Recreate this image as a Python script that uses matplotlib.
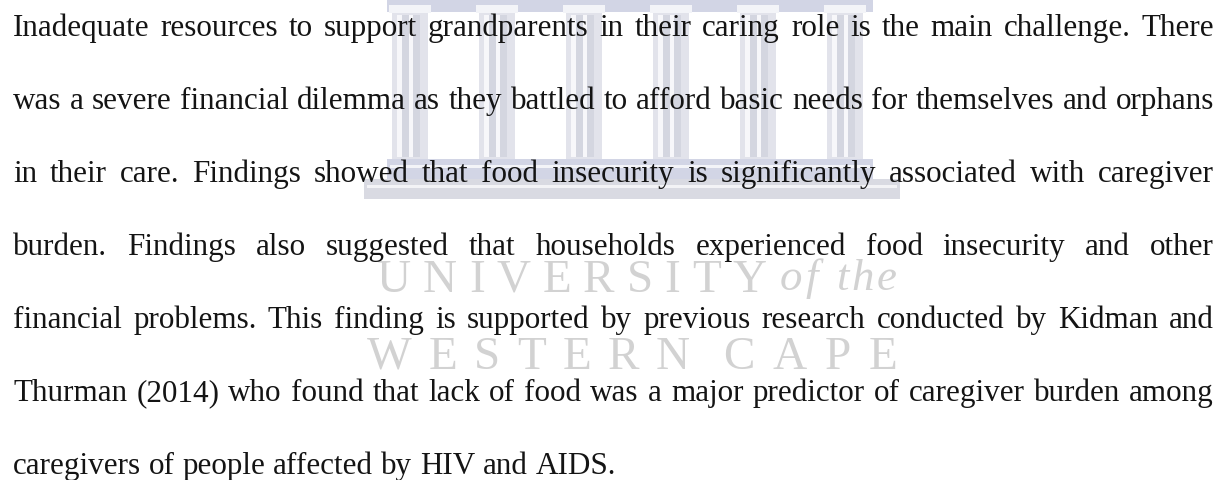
import matplotlib
matplotlib.use("Agg")
import matplotlib.pyplot as plt
from matplotlib.patches import Rectangle

# paragraph, one entry per printed line
lines = [
    "Inadequate resources to support grandparents in their caring role is the main challenge. There",
    "was a severe financial dilemma as they battled to afford basic needs for themselves and orphans",
    "in their care. Findings showed that food insecurity is significantly associated with caregiver",
    "burden. Findings also suggested that households experienced food insecurity and other",
    "financial problems. This finding is supported by previous research conducted by Kidman and",
    "Thurman (2014) who found that lack of food was a major predictor of caregiver burden among",
    "caregivers of people affected by HIV and AIDS.",
]
justified = [True, True, True, True, True, True, False]

# faded university watermark behind the text
wm_top = "UNIVERSITY"
wm_of = "of the"
wm_west = "WESTERN"
wm_cape = "CAPE"
n_columns = 6

W, H = 1227, 481
left, right = 13, 1214
base0, step = 36, 73
serif = "Liberation Serif"
txt_col = "#141414"
band_col = "#d2d5e5"
wm_col = "#d2d2d2"

fig = plt.figure(figsize=(W / 100, H / 100), dpi=100)
ax = fig.add_axes([0, 0, 1, 1])
ax.set_xlim(0, W)
ax.set_ylim(H, 0)
ax.axis("off")
fig.canvas.draw()
rend = fig.canvas.get_renderer()


def width_of(s, size, **kw):
    t = ax.text(0, 0, s, fontsize=size, family=serif, **kw)
    w = t.get_window_extent(rend).width
    t.remove()
    return w


# font size so that the widest justified line sits at normal word spacing
ref = 20.0
nat = max(width_of(ln, ref) for ln, j in zip(lines, justified) if j)
fsize = ref * (right - left) / nat * 0.995

# ---- paragraph, justified line by line
for k, line in enumerate(lines):
    y = base0 + step * k
    words = line.split()
    arts = [ax.text(0, y, w, fontsize=fsize, family=serif, color=txt_col,
                    va="baseline", ha="left", zorder=3) for w in words]
    widths = [a.get_window_extent(rend).width for a in arts]
    if justified[k] and len(words) > 1:
        gap = (right - left - sum(widths)) / (len(words) - 1)
    else:
        gap = width_of("a a", fsize) - width_of("aa", fsize)
    x = left
    for a, w in zip(arts, widths):
        a.set_x(x)
        x += w + gap


def spread(s, x0, x1, y, size, **kw):
    ws = [width_of(c, size, **kw) for c in s]
    g = (x1 - x0 - sum(ws)) / max(len(s) - 1, 1)
    x = x0
    for c, w in zip(s, ws):
        ax.text(x, y, c, fontsize=size, family=serif, color=wm_col, va="baseline",
                ha="left", zorder=1, **kw)
        x += w + g


# ---- watermark: building logo
lx0, lx1 = 387, 873
ax.add_patch(Rectangle((lx0, 0), lx1 - lx0, 13, color=band_col, lw=0, zorder=1))
cw = 36
pitch = (lx1 - 10 - cw - (lx0 + 5)) / (n_columns - 1)
for i in range(n_columns):
    x0 = lx0 + 5 + pitch * i
    ax.add_patch(Rectangle((x0 - 3, 6), cw + 6, 8, color="#f3f4f8", lw=0, zorder=1.1))
    ax.add_patch(Rectangle((x0, 14), cw, 146, color="#e2e3eb", lw=0, zorder=1))
    ax.add_patch(Rectangle((x0 + 5, 16), 5, 142, color="#f7f7fa", lw=0, zorder=1.1))
    ax.add_patch(Rectangle((x0 + 10, 16), 7, 142, color="#d4d6e0", lw=0, zorder=1.1))
    ax.add_patch(Rectangle((x0 + 17, 16), 4, 142, color="#f7f7fa", lw=0, zorder=1.1))
    ax.add_patch(Rectangle((x0 + 21, 16), 7, 142, color="#d4d6e0", lw=0, zorder=1.1))
ax.add_patch(Rectangle((lx0, 160), lx1 - lx0, 20, color=band_col, lw=0, zorder=1))
ax.add_patch(Rectangle((lx0 + 3, 166), lx1 - lx0 - 6, 3, color="#f3f4f8", lw=0, zorder=1.1))
ax.add_patch(Rectangle((364, 180), 536, 20, color="#d9dae2", lw=0, zorder=1))
ax.add_patch(Rectangle((367, 186), 530, 3, color="#f3f3f6", lw=0, zorder=1.1))

# ---- watermark: lettering
wm_size = 34
spread(wm_top, 377, 767, 292, wm_size)
spread(wm_of, 780, 897, 290, wm_size * 0.95, style="italic")
spread(wm_west, 367, 690, 369, wm_size)
spread(wm_cape, 723, 897, 369, wm_size)

fig.savefig("out.png", dpi=100, facecolor="white")
